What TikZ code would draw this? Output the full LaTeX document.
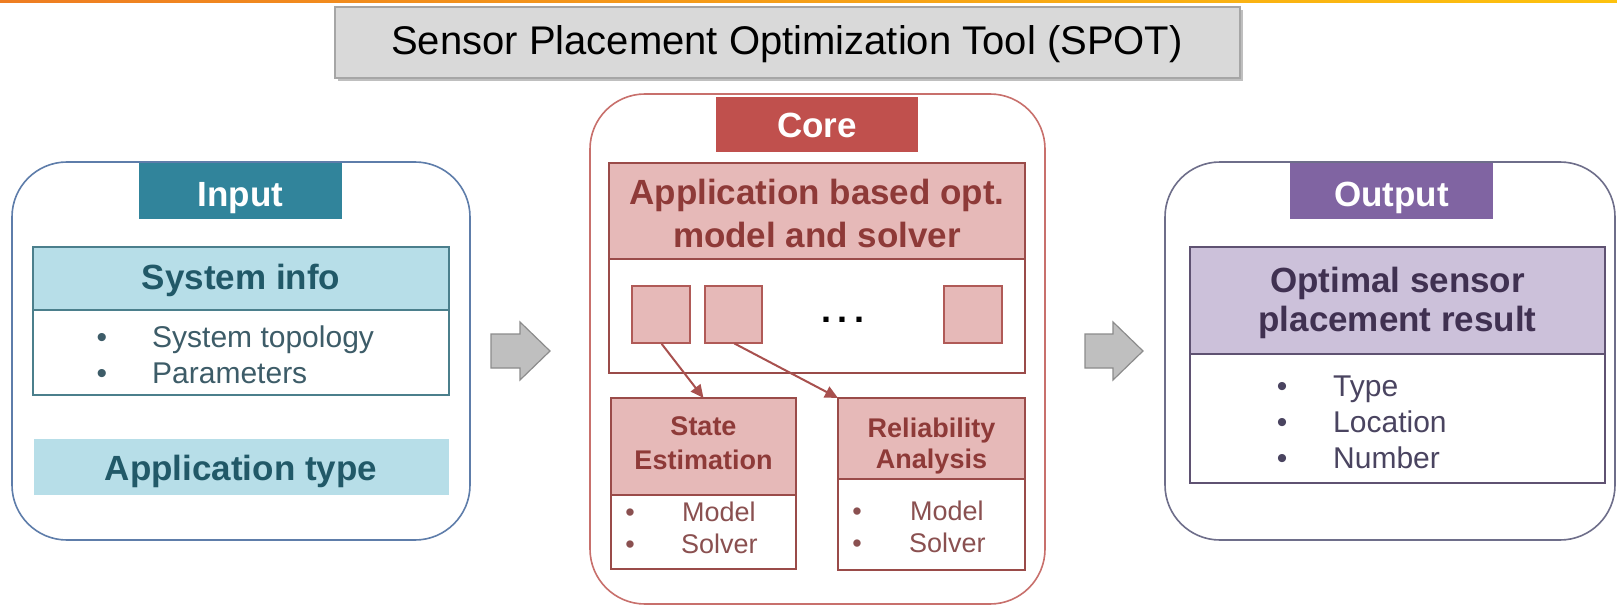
\documentclass[tikz,border=0pt]{standalone}
\usepackage{fontspec}
\setmainfont{Liberation Sans}
\usetikzlibrary{calc,arrows.meta}

\definecolor{tealhead}{HTML}{31849B}
\definecolor{teallight}{HTML}{B7DEE8}
\definecolor{tealdark}{HTML}{215968}
\definecolor{tealline}{HTML}{4B7F8C}
\definecolor{tealtext}{HTML}{3D5C68}
\definecolor{inpanel}{HTML}{5E7DAA}
\definecolor{redhead}{HTML}{C0504D}
\definecolor{redlight}{HTML}{E6B9B8}
\definecolor{reddark}{HTML}{8E3A38}
\definecolor{redline}{HTML}{B05A57}
\definecolor{redbox}{HTML}{9A4B49}
\definecolor{redtext}{HTML}{8A5050}
\definecolor{redarrow}{HTML}{A8504E}
\definecolor{corepanel}{HTML}{C8706C}
\definecolor{purhead}{HTML}{8064A2}
\definecolor{purlight}{HTML}{CCC1DA}
\definecolor{purdark}{HTML}{403151}
\definecolor{purline}{HTML}{5F5272}
\definecolor{purtext}{HTML}{4A4460}
\definecolor{outpanel}{HTML}{6E6E8A}
\definecolor{titlefill}{HTML}{D9D9D9}
\definecolor{titleline}{HTML}{A6A6A6}
\definecolor{arrowfill}{HTML}{BFBFBF}
\definecolor{arrowline}{HTML}{8C8C8C}
\definecolor{barorange}{HTML}{EE7D22}
\definecolor{baryellow}{HTML}{FDC20E}

\newcommand{\titlefont}{\fontsize{40}{48}\selectfont}
\newcommand{\headfont}{\bfseries\fontsize{35}{42}\selectfont}
\newcommand{\itemfont}{\fontsize{30}{36}\selectfont}
\newcommand{\subheadfont}{\bfseries\fontsize{27}{33}\selectfont}
\newcommand{\subitemfont}{\fontsize{27}{33}\selectfont}

\begin{document}
\begin{tikzpicture}[x=1pt,y=-1pt,
  hbox/.style={anchor=north west, inner sep=0pt, outer sep=0pt, line width=1.8pt},
  panel/.style={hbox, draw, rounded corners=55pt, line width=1.6pt, fill=white},
  lbl/.style={anchor=base, inner sep=0pt},
  lbll/.style={anchor=base west, inner sep=0pt},
  blockarrow/.style={draw=arrowline, fill=arrowfill, line width=1.2pt, line join=miter},
  pick/.style={-{Triangle[length=13pt,width=12pt]}, draw=redarrow, line width=2pt, shorten <=1pt}
]
% canvas and top bar
\path[fill=white] (0,0) rectangle (1617,607);
\useasboundingbox (0,0) rectangle (1617,607);
\shade[left color=barorange, right color=baryellow] (0,0) rectangle (1617,3);

% title bar
\fill[black, opacity=0.25] (338,10) rectangle (1243,81);
\node[hbox, draw=titleline, fill=titlefill, line width=1.4pt,
      minimum width=905pt, minimum height=71pt] (title) at (335,7) {};
\node[lbl, font=\titlefont] (titletxt) at (787,55) {Sensor Placement Optimization Tool (SPOT)};

% three panels
\node[panel, draw=inpanel, minimum width=458pt, minimum height=378pt] (inp) at (12,162) {};
\node[panel, draw=corepanel, minimum width=455pt, minimum height=510pt] (core) at (590,94) {};
\node[panel, draw=outpanel, minimum width=450pt, minimum height=378pt] (outp) at (1165,162) {};

% ---------- Input ----------
\node[hbox, fill=tealhead, minimum width=203pt, minimum height=56pt] (inhead) at (139,163) {};
\node[lbl, font=\headfont, text=white] (inheadtxt) at (240.5,206) {Input};

\node[hbox, fill=teallight, draw=tealline, minimum width=416pt, minimum height=63pt] (sysh) at (33,247) {};
\node[hbox, fill=white, draw=tealline, minimum width=416pt, minimum height=85pt] (sysb) at (33,310) {};
\node[lbl, font=\headfont, text=tealdark] (syshtxt) at (241,289) {System info};
\node[lbl, font=\itemfont, text=tealtext] (sysd1) at (102,347) {•};
\node[lbll, font=\itemfont, text=tealtext] (sysi1) at (152,347) {System topology};
\node[lbl, font=\itemfont, text=tealtext] (sysd2) at (102,383) {•};
\node[lbll, font=\itemfont, text=tealtext] (sysi2) at (152,383) {Parameters};

\node[hbox, fill=teallight, minimum width=415pt, minimum height=56pt] (apptype) at (34,439) {};
\node[lbl, font=\headfont, text=tealdark] (apptypetxt) at (241,480) {Application type};

% ---------- Core ----------
\node[hbox, fill=redhead, minimum width=202pt, minimum height=55pt] (corehead) at (716,97) {};
\node[lbl, font=\headfont, text=white] (coreheadtxt) at (817,138) {Core};

\node[hbox, fill=redlight, draw=redbox, minimum width=416pt, minimum height=96pt] (apph) at (609,163) {};
\node[hbox, fill=white, draw=redbox, minimum width=416pt, minimum height=114pt] (appb) at (609,259) {};
\node[lbl, font=\headfont, text=reddark] (apphtxt1) at (817,204) {Application based opt.};
\node[lbl, font=\headfont, text=reddark] (apphtxt2) at (817,247) {model and solver};

\node[hbox, fill=redlight, draw=redline, minimum width=58pt, minimum height=57pt] (sqa) at (632,286) {};
\node[hbox, fill=redlight, draw=redline, minimum width=57pt, minimum height=57pt] (sqb) at (705,286) {};
\node[hbox, fill=redlight, draw=redline, minimum width=58pt, minimum height=57pt] (sqc) at (944,286) {};
\node[lbl, font=\bfseries\fontsize{36}{40}\selectfont] (more) at (843,322) {.\hspace{7pt}.\hspace{7pt}.};

\node[hbox, fill=redlight, draw=redbox, minimum width=185pt, minimum height=97pt] (seh) at (611,398) {};
\node[hbox, fill=white, draw=redbox, minimum width=185pt, minimum height=74pt] (seb) at (611,495) {};
\node[lbl, font=\subheadfont, text=reddark] (sehtxt1) at (703.5,435) {State};
\node[lbl, font=\subheadfont, text=reddark] (sehtxt2) at (703.5,469) {Estimation};
\node[lbl, font=\subitemfont, text=redtext] (sed1) at (630,521) {•};
\node[lbll, font=\subitemfont, text=redtext] (sei1) at (682,521) {Model};
\node[lbl, font=\subitemfont, text=redtext] (sed2) at (630,553) {•};
\node[lbll, font=\subitemfont, text=redtext] (sei2) at (681,553) {Solver};

\node[hbox, fill=redlight, draw=redbox, minimum width=187pt, minimum height=81pt] (rlh) at (838,398) {};
\node[hbox, fill=white, draw=redbox, minimum width=187pt, minimum height=91pt] (rlb) at (838,479) {};
\node[lbl, font=\subheadfont, text=reddark] (rlhtxt1) at (931.5,437) {Reliability};
\node[lbl, font=\subheadfont, text=reddark] (rlhtxt2) at (931.5,468) {Analysis};
\node[lbl, font=\subitemfont, text=redtext] (rld1) at (857,520) {•};
\node[lbll, font=\subitemfont, text=redtext] (rli1) at (910,520) {Model};
\node[lbl, font=\subitemfont, text=redtext] (rld2) at (857,552) {•};
\node[lbll, font=\subitemfont, text=redtext] (rli2) at (909,552) {Solver};

\draw[pick] (sqa.south) -- (seh.north);
\draw[pick] (sqb.south) -- (rlh.north west);

% ---------- Output ----------
\node[hbox, fill=purhead, minimum width=203pt, minimum height=56pt] (outhead) at (1290,163) {};
\node[lbl, font=\headfont, text=white] (outheadtxt) at (1391.5,206) {Output};

\node[hbox, fill=purlight, draw=purline, minimum width=415pt, minimum height=107pt] (opth) at (1190,247) {};
\node[hbox, fill=white, draw=purline, minimum width=415pt, minimum height=129pt] (optb) at (1190,354) {};
\node[lbl, font=\headfont, text=purdark] (opthtxt1) at (1397.5,292) {Optimal sensor};
\node[lbl, font=\headfont, text=purdark] (opthtxt2) at (1397.5,331) {placement result};
\node[lbl, font=\itemfont, text=purtext] (optd1) at (1282,396) {•};
\node[lbll, font=\itemfont, text=purtext] (opti1) at (1333,396) {Type};
\node[lbl, font=\itemfont, text=purtext] (optd2) at (1282,432) {•};
\node[lbll, font=\itemfont, text=purtext] (opti2) at (1333,432) {Location};
\node[lbl, font=\itemfont, text=purtext] (optd3) at (1282,468) {•};
\node[lbll, font=\itemfont, text=purtext] (opti3) at (1333,468) {Number};

% ---------- block arrows between the panels ----------
\draw[blockarrow] ($(inp.east)+(21,-17)$) -- ++(29,0) -- ++(0,-12) -- ++(30,29)
  -- ++(-30,29) -- ++(0,-12) -- ++(-29,0) -- cycle;
\draw[blockarrow] ($(outp.west)+(-80,-17)$) -- ++(28,0) -- ++(0,-12) -- ++(30,29)
  -- ++(-30,29) -- ++(0,-12) -- ++(-28,0) -- cycle;
\end{tikzpicture}
\end{document}
